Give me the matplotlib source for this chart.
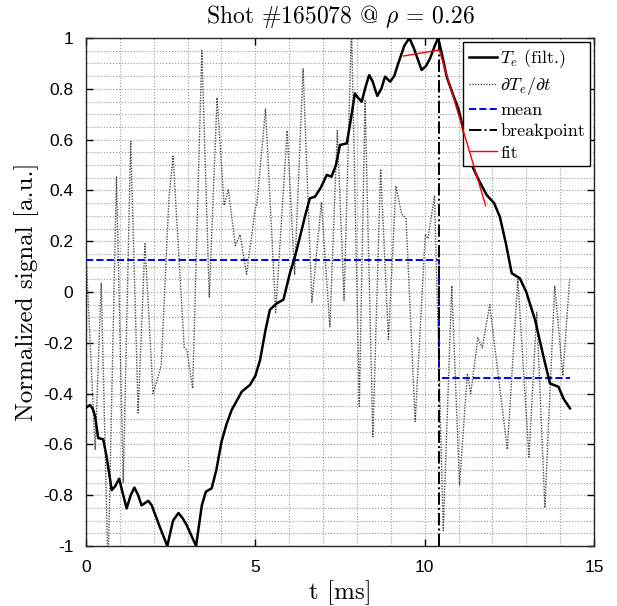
import numpy as np
import matplotlib
matplotlib.use("Agg")
import matplotlib.pyplot as plt

# ---- data ----
te_t = [0.0, 0.12, 0.20, 0.27, 0.36, 0.51, 0.61, 0.76, 0.86, 0.98, 1.08, 1.2, 1.32, 1.43, 1.54,
        1.64, 1.84, 1.94, 2.18, 2.40, 2.57, 2.73, 2.85, 2.97, 3.25, 3.42, 3.54, 3.71, 3.85,
        4.0, 4.15, 4.30, 4.6, 4.84, 5.0, 5.14, 5.30, 5.43, 5.63, 5.83, 6.02, 6.17, 6.32,
        6.47, 6.61, 6.76, 6.93, 7.11, 7.25, 7.38, 7.5, 7.7, 7.82, 7.94, 8.03, 8.14, 8.26,
        8.36, 8.46, 8.60, 8.72, 8.83, 8.98, 9.10, 9.22, 9.40, 9.55, 9.68, 9.91, 10.04, 10.16,
        10.30, 10.40, 10.52, 10.65, 10.84, 11.00, 11.19, 11.39, 11.60, 11.83, 12.05, 12.22,
        12.40, 12.57, 12.81, 13.00, 13.26, 13.50, 13.70, 13.95, 14.10, 14.29]
te_v = [-0.455, -0.445, -0.46, -0.49, -0.575, -0.58, -0.65, -0.78, -0.765, -0.735, -0.79,
        -0.852, -0.80, -0.77, -0.80, -0.84, -0.822, -0.84, -0.925, -1.0, -0.90, -0.87, -0.89,
        -0.917, -1.0, -0.84, -0.786, -0.773, -0.70, -0.59, -0.52, -0.465, -0.392, -0.366,
        -0.33, -0.268, -0.15, -0.07, -0.045, -0.03, 0.074, 0.139, 0.218, 0.30, 0.369, 0.375,
        0.41, 0.461, 0.454, 0.50, 0.579, 0.585, 0.68, 0.782, 0.765, 0.749, 0.81, 0.854,
        0.83, 0.772, 0.80, 0.848, 0.828, 0.85, 0.90, 0.97, 1.0, 0.96, 0.874, 0.89, 0.92,
        0.97, 1.0, 0.93, 0.848, 0.776, 0.72, 0.611, 0.5, 0.44, 0.382, 0.35, 0.296, 0.19,
        0.074, 0.054, 0.0, -0.11, -0.25, -0.36, -0.373, -0.42, -0.458]

dt_t = [0.0, 0.27, 0.45, 0.65, 0.90, 1.10, 1.32, 1.54, 1.74, 1.98, 2.22, 2.45, 2.57, 2.90,
        2.98, 3.15, 3.42, 3.64, 3.87, 4.08, 4.20, 4.41, 4.55, 4.74, 5.00, 5.05, 5.30, 5.60,
        5.94, 6.16, 6.41, 6.67, 6.95, 7.20, 7.42, 7.62, 7.84, 8.07, 8.24, 8.47, 8.70, 8.93,
        9.15, 9.32, 9.45, 9.72, 10.02, 10.10, 10.29, 10.55, 10.80, 11.03, 11.26, 11.36,
        11.57, 11.70, 11.92, 12.44, 12.75, 13.08, 13.31, 13.55, 13.84, 14.08, 14.28]
dt_v = [0.15, -0.62, 0.036, -1.1, 0.453, -0.75, 0.594, -0.476, 0.19, -0.40, -0.29, 0.37,
        0.535, -0.218, -0.23, -0.38, 0.95, -0.02, 0.765, 0.34, 0.405, 0.183, 0.226, 0.07,
        0.33, 0.35, 0.72, -0.08, 0.635, 0.07, 0.878, -0.04, 0.353, -0.137, 0.635, -0.032,
        1.05, -0.45, 0.753, -0.57, 0.484, -0.187, 0.418, 0.307, 0.29, -0.51, 0.228, 0.21,
        0.38, -0.94, 0.025, -0.76, -0.32, -0.40, -0.18, -0.22, -0.05, -0.62, 0.05, -0.65,
        -0.08, -0.85, 0.025, -0.33, 0.05]

breakpoint_t = 10.43
mean_before = 0.125
mean_after = -0.34
t_end = 14.28

fit_t = [9.37, 10.43, 11.8]
fit_v = [0.929, 0.953, 0.34]

title_text = r"Shot #165078 @ $\rho$ = 0.26"
xlabel_text = "t [ms]"
ylabel_text = "Normalized signal [a.u.]"
xticks = [0, 5, 10, 15]
yticks = [-1, -0.8, -0.6, -0.4, -0.2, 0, 0.2, 0.4, 0.6, 0.8, 1]
ytick_labels = ["-1", "-0.8", "-0.6", "-0.4", "-0.2", "0", "0.2", "0.4", "0.6", "0.8", "1"]
legend_labels = [r"$T_e$ (filt.)", r"$\partial T_e/\partial t$", "mean", "breakpoint", "fit"]

# ---- style ----
plt.rcParams['mathtext.fontset'] = 'cm'
plt.rcParams['axes.unicode_minus'] = False
serif = ['cmr10', 'DejaVu Serif']

fig = plt.figure(figsize=(6.17, 6.06), dpi=100)
ax = fig.add_axes([86/617, 1-546/606, (594-86)/617, (546-38)/606])

l_te, = ax.plot(te_t, te_v, color='k', lw=1.8, zorder=5, solid_joinstyle='round')
l_dt, = ax.plot(dt_t, dt_v, color='0.3', lw=1.0, linestyle=(0, (1, 1)), zorder=3)
l_mean, = ax.plot([0, breakpoint_t, breakpoint_t, t_end],
                  [mean_before, mean_before, mean_after, mean_after],
                  color='b', lw=1.4, linestyle='--', zorder=4)
l_bp = ax.axvline(breakpoint_t, color='k', lw=1.4, linestyle='-.', zorder=4)
l_fit, = ax.plot(fit_t, fit_v, color='r', lw=1.0, zorder=6)

ax.set_xlim(0, 15)
ax.set_ylim(-1, 1)
ax.set_xticks(xticks)
ax.set_xticklabels([str(x) for x in xticks], family='Liberation Sans', fontsize=12.5)
ax.set_yticks(yticks)
ax.set_yticklabels(ytick_labels, family='Liberation Sans', fontsize=12.5)
ax.set_xticks(np.arange(0, 15.01, 1), minor=True)
ax.set_yticks(np.arange(-1, 1.001, 0.05), minor=True)
ax.tick_params(which='major', direction='in', length=5, width=1, top=True, right=True)
ax.tick_params(axis='x', which='major', pad=10)
ax.tick_params(axis='y', which='major', pad=9)
ax.tick_params(which='minor', length=0, top=True, right=True)
ax.grid(which='both', linestyle=':', color='0.6', lw=0.8)
for s in ax.spines.values():
    s.set_linewidth(1.0)
    s.set_color('0.15')

ax.set_title(title_text, family=serif, fontsize=17, pad=11)
ax.set_xlabel(xlabel_text, family=serif, fontsize=18, labelpad=4)
ax.set_ylabel(ylabel_text, family=serif, fontsize=18, labelpad=3)

leg = ax.legend([l_te, l_dt, l_mean, l_bp, l_fit], legend_labels, loc='upper right',
                prop={'family': serif, 'size': 13}, fancybox=False, framealpha=1,
                edgecolor='k', handlelength=1.6, handletextpad=0.15, borderpad=0.3,
                labelspacing=0.3, borderaxespad=0.2)
leg.get_frame().set_linewidth(1.0)

fig.savefig("out.png", dpi=100)
